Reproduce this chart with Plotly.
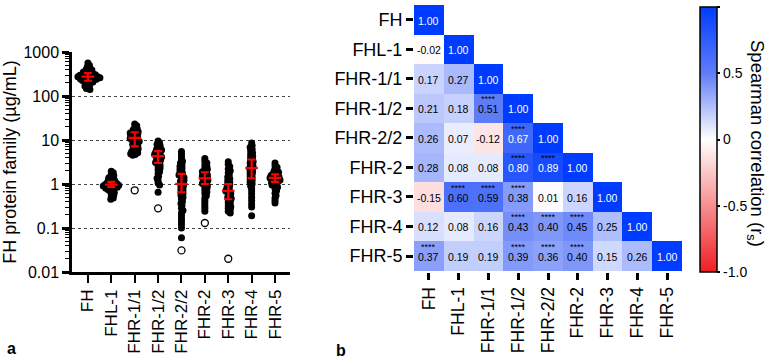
import numpy as np
import plotly.graph_objects as go

# ---------------- data ----------------
groups = ["FH", "FHL-1", "FHR-1/1", "FHR-1/2", "FHR-2/2", "FHR-2", "FHR-3", "FHR-4", "FHR-5"]

fh_vals = [560, 500, 460, 430, 410, 390, 375, 360, 350, 340, 330, 325, 318, 310, 305, 300, 295, 290,
           286, 282, 278, 275, 272, 268, 264, 260, 256, 252, 248, 244, 240, 235, 230, 225, 220, 214,
           208, 200, 192, 185, 176, 168, 158, 148, 140]
fhl1_vals = [1.95, 1.8, 1.65, 1.55, 1.45, 1.38, 1.32, 1.26, 1.22, 1.18, 1.14, 1.1, 1.07, 1.04, 1.02,
             1.0, 0.98, 0.96, 0.94, 0.92, 0.9, 0.88, 0.86, 0.84, 0.82, 0.8, 0.77, 0.74, 0.71, 0.68,
             0.64, 0.6, 0.56, 0.52, 0.48, 0.45]
fhr11_vals = [23, 21, 19, 18, 17, 16, 15.5, 15, 14.5, 14, 13.5, 13, 12.5, 12, 11.6, 11.2, 10.8, 10.4,
              10, 9.6, 9.2, 8.8, 8.4, 8, 7.6, 7.2, 6.9, 6.6, 6.3, 6, 5.7, 5.5, 5.3, 5.1, 4.9, 4.7, 4.5]
fhr12_vals = [9.5, 8.5, 8, 7.5, 7, 6.6, 6.2, 5.9, 5.6, 5.3, 5.1, 4.9, 4.7, 4.5, 4.3, 4.1, 3.9, 3.7,
              3.5, 3.3, 3.1, 2.9, 2.7, 2.5, 2.3, 2.1, 1.9, 1.7, 1.5, 1.35, 1.2, 1.05, 0.95, 0.65]
fhr22_vals = [5.5, 4.8, 4.2, 3.7, 3.3, 3, 2.7, 2.5, 2.3, 2.1, 1.95, 1.8, 1.7, 1.6, 1.5, 1.4, 1.3,
              1.22, 1.15, 1.08, 1.0, 0.94, 0.88, 0.82, 0.76, 0.7, 0.65, 0.6, 0.55, 0.5, 0.45, 0.4,
              0.36, 0.32, 0.28, 0.25, 0.22, 0.19, 0.16, 0.14, 0.12, 0.1, 0.06]
fhr2_vals = [3.8, 3.3, 3, 2.7, 2.5, 2.3, 2.15, 2, 1.9, 1.8, 1.7, 1.6, 1.52, 1.45, 1.38, 1.32, 1.26,
             1.2, 1.14, 1.08, 1.02, 0.96, 0.9, 0.84, 0.78, 0.72, 0.66, 0.6, 0.54, 0.48, 0.42, 0.37,
             0.32, 0.28, 0.24]
fhr3_vals = [3.2, 2.8, 2.5, 2.2, 2, 1.8, 1.6, 1.45, 1.32, 1.2, 1.1, 1.02, 0.95, 0.89, 0.83, 0.78,
             0.73, 0.69, 0.65, 0.61, 0.57, 0.53, 0.5, 0.47, 0.44, 0.41, 0.38, 0.35, 0.32, 0.3, 0.28,
             0.26, 0.24, 0.22]
fhr4_vals = [8.5, 7.5, 6.8, 6.2, 5.6, 5.1, 4.7, 4.3, 4, 3.7, 3.4, 3.2, 3, 2.8, 2.6, 2.45, 2.3, 2.15,
             2, 1.88, 1.76, 1.64, 1.52, 1.4, 1.3, 1.2, 1.1, 1.0, 0.9, 0.8, 0.7, 0.6, 0.5, 0.42, 0.35,
             0.3, 0.19]
fhr5_vals = [3.0, 2.6, 2.4, 2.2, 2.05, 1.95, 1.85, 1.75, 1.68, 1.62, 1.56, 1.5, 1.45, 1.4, 1.36,
             1.32, 1.28, 1.24, 1.2, 1.16, 1.12, 1.08, 1.04, 1.0, 0.95, 0.9, 0.84, 0.78, 0.7, 0.62,
             0.55, 0.48, 0.42, 0.37]
group_values = [fh_vals, fhl1_vals, fhr11_vals, fhr12_vals, fhr22_vals, fhr2_vals, fhr3_vals,
                fhr4_vals, fhr5_vals]

medians = [275, 0.97, 11.2, 4.3, 1.0, 1.35, 0.7, 2.3, 1.38]
iqr_low = [222, 0.86, 7.2, 3.0, 0.65, 1.0, 0.45, 1.35, 1.12]
iqr_high = [332, 1.12, 15.0, 5.6, 1.7, 1.85, 1.0, 3.6, 1.65]

outlier_groups = ["FHR-1/1", "FHR-1/2", "FHR-2/2", "FHR-2", "FHR-3"]
outlier_values = [0.72, 0.28, 0.031, 0.13, 0.02]

corr_rows = [
    [1.00],
    [-0.02, 1.00],
    [0.17, 0.27, 1.00],
    [0.21, 0.18, 0.51, 1.00],
    [0.26, 0.07, -0.12, 0.67, 1.00],
    [0.28, 0.08, 0.08, 0.80, 0.89, 1.00],
    [-0.15, 0.60, 0.59, 0.38, 0.01, 0.16, 1.00],
    [0.12, 0.08, 0.16, 0.43, 0.40, 0.45, 0.25, 1.00],
    [0.37, 0.19, 0.19, 0.39, 0.36, 0.40, 0.15, 0.26, 1.00],
]
sig_rows = [
    [0],
    [0, 0],
    [0, 0, 0],
    [0, 0, 1, 0],
    [0, 0, 0, 1, 0],
    [0, 0, 0, 1, 1, 0],
    [0, 1, 1, 1, 0, 0, 0],
    [0, 0, 0, 1, 1, 1, 0, 0],
    [1, 0, 0, 1, 1, 1, 0, 0, 0],
]
cbar_ticks = [-0.999, -0.5, 0, 0.5, 0.999]
cbar_labels = ["-1.0", "-0.5", "0", "0.5", "1.0"]

# ---------------- layout geometry ----------------
W, H = 778, 360
FONT = "Liberation Sans, Arial, sans-serif"
LX0, LX1, LY0, LY1 = 72, 290, 52, 272  # left panel pixel box
x_lo, x_hi = -0.68, 8.64
px_per_unit = (LX1 - LX0) / (x_hi - x_lo)
px_per_dec = (LY1 - LY0) / 5.0


def swarm_offsets(vals, min_d=2.4, step=0.5):
    ys = np.log10(np.asarray(vals, float)) * px_per_dec
    order = np.argsort(-ys)
    placed = []
    offs = np.zeros(len(vals))
    cands = [0.0]
    k = 1
    while k * step <= 20:
        cands += [k * step, -k * step]
        k += 1
    for idx in order:
        y = ys[idx]
        for c in cands:
            ok = True
            for (px, py) in placed:
                if (px - c) ** 2 + (py - y) ** 2 < min_d ** 2:
                    ok = False
                    break
            if ok:
                break
        placed.append((c, y))
        offs[idx] = c
    return offs / px_per_unit


fig = go.Figure()

for i, vals in enumerate(group_values):
    offs = swarm_offsets(vals)
    fig.add_trace(go.Scatter(
        x=i + offs, y=vals, mode="markers", xaxis="x", yaxis="y",
        marker=dict(color="black", size=7, line=dict(width=0)),
        showlegend=False, hoverinfo="skip"))

fig.add_trace(go.Scatter(
    x=[groups.index(g) for g in outlier_groups], y=outlier_values, mode="markers",
    xaxis="x", yaxis="y",
    marker=dict(color="white", size=7, line=dict(color="black", width=1.3)),
    showlegend=False, hoverinfo="skip"))

fig.add_trace(go.Scatter(
    x=list(range(len(groups))), y=medians, mode="markers", xaxis="x", yaxis="y",
    marker=dict(symbol="line-ew", size=9, color="red", line=dict(color="red", width=2.2)),
    error_y=dict(type="data", symmetric=False,
                 array=[h - m for h, m in zip(iqr_high, medians)],
                 arrayminus=[m - l for m, l in zip(medians, iqr_low)],
                 color="red", thickness=2.2, width=4),
    showlegend=False, hoverinfo="skip"))

# heatmap
n = len(groups)
z = [[corr_rows[r][c] if c <= r else None for c in range(n)] for r in range(n)]
colorscale = [[0.0, "rgb(240,30,35)"], [0.5, "rgb(255,255,255)"],
              [0.75, "rgb(95,125,248)"], [1.0, "rgb(0,60,255)"]]
HX0, HX1, HY0, HY1 = 414, 682, 5, 272
fig.add_trace(go.Heatmap(
    z=z, x=groups, y=groups, xaxis="x2", yaxis="y2", zmin=-1, zmax=1,
    colorscale=colorscale, hoverinfo="skip",
    colorbar=dict(
        x=700 / W, xanchor="left", y=1 - 139.5 / H, yanchor="middle",
        len=265 / H, lenmode="fraction", thickness=17, thicknessmode="pixels",
        outlinewidth=1.5, outlinecolor="black", xpad=0, ypad=0,
        tickvals=cbar_ticks, ticktext=cbar_labels,
        ticks="outside", ticklen=3, tickwidth=2, tickcolor="black",
        tickfont=dict(family=FONT, size=14, color="black"))))

annotations = []
for r in range(n):
    for c in range(r + 1):
        v = corr_rows[r][c]
        col = "white" if v >= 0.65 else "black"
        annotations.append(dict(
            x=groups[c], y=groups[r], xref="x2", yref="y2", text=f"{v:.2f}",
            yshift=-1, showarrow=False, font=dict(family=FONT, size=10.5, color=col)))
        if sig_rows[r][c]:
            annotations.append(dict(
                x=groups[c], y=groups[r], xref="x2", yref="y2", text="****",
                yshift=9, showarrow=False, font=dict(family=FONT, size=9, color="black")))

annotations += [
    dict(x=770 / W, y=1 - 143 / H, xref="paper", yref="paper",
         text="Spearman correlation (r<sub>s</sub>)", textangle=90, showarrow=False,
         font=dict(family=FONT, size=18.5, color="black")),
    dict(x=5 / W, y=1 - 348 / H, xref="paper", yref="paper", text="<b>a</b>",
         showarrow=False, xanchor="left", yanchor="middle",
         font=dict(family=FONT, size=16, color="black")),
    dict(x=334 / W, y=1 - 350 / H, xref="paper", yref="paper", text="<b>b</b>",
         showarrow=False, xanchor="left", yanchor="middle",
         font=dict(family=FONT, size=16, color="black")),
]

fig.update_layout(
    width=W, height=H, margin=dict(l=0, r=0, t=0, b=0, autoexpand=False),
    paper_bgcolor="white", plot_bgcolor="white",
    font=dict(family=FONT, color="black"),
    xaxis=dict(domain=[LX0 / W, LX1 / W], range=[x_lo, x_hi],
               tickvals=list(range(n)), ticktext=groups, tickangle=-90,
               tickfont=dict(size=17), ticks="outside", ticklen=8, tickwidth=2,
               tickcolor="black", showline=True, linecolor="black", linewidth=2.5,
               showgrid=False, zeroline=False, anchor="y", automargin=False),
    yaxis=dict(domain=[1 - LY1 / H, 1 - LY0 / H], type="log", range=[-2, 3],
               dtick=1, exponentformat="none",
               tickfont=dict(size=16), ticks="outside", ticklen=7, tickwidth=2.5,
               tickcolor="black", showline=True, linecolor="black", linewidth=2.5,
               showgrid=True, gridcolor="#444", griddash="dot", gridwidth=1,
               minor=dict(ticks="outside", ticklen=4, tickwidth=1.2, tickcolor="black",
                          dtick="D1", showgrid=False),
               title=dict(text="FH protein family (µg/mL)", font=dict(size=18), standoff=6),
               zeroline=False, anchor="x", automargin=False),
    xaxis2=dict(domain=[HX0 / W, HX1 / W], tickangle=-90, tickfont=dict(size=17.5),
                ticks="outside", ticklen=7, tickwidth=3, tickcolor="black",
                showgrid=False, zeroline=False, showline=False, anchor="y2",
                automargin=False),
    yaxis2=dict(domain=[1 - HY1 / H, 1 - HY0 / H], autorange="reversed",
                tickfont=dict(size=18), ticks="outside", ticklen=7, tickwidth=3,
                tickcolor="black", showgrid=False, zeroline=False, showline=False,
                anchor="x2", automargin=False),
    annotations=annotations,
)

fig.write_html("out.html", config={"displayModeBar": False},
               post_script="document.body.style.margin='0px';")
